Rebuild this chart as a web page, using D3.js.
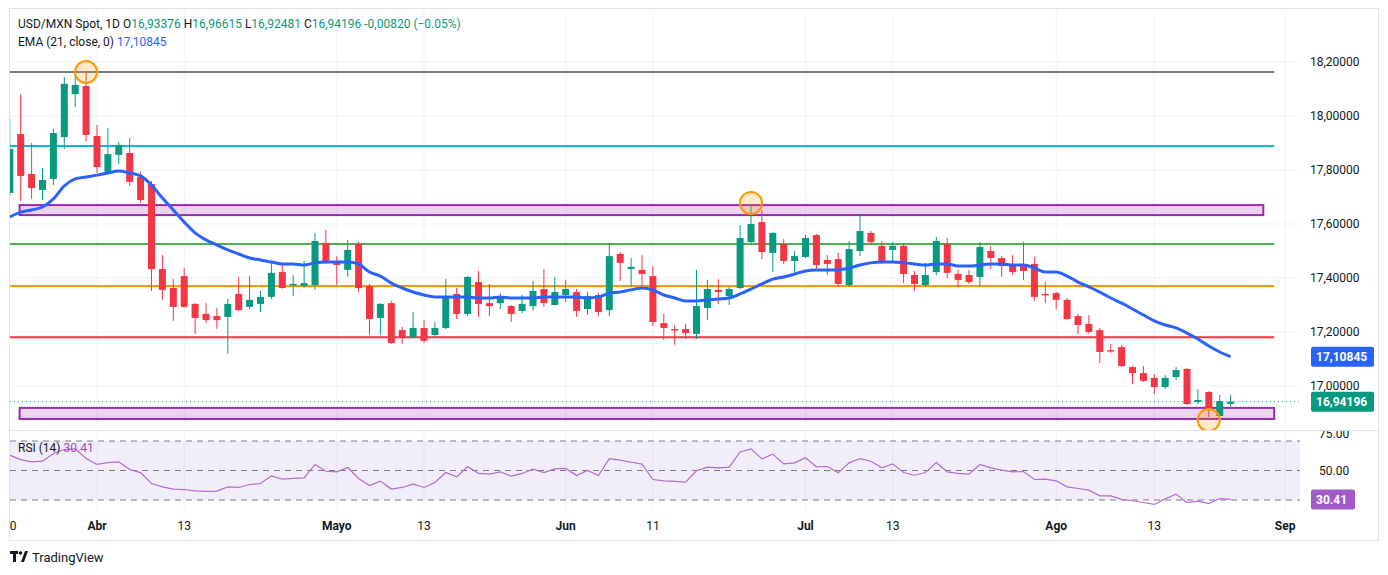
<!DOCTYPE html>
<html>
<head>
<meta charset="utf-8">
<script src="https://cdn.jsdelivr.net/npm/d3@7"></script>
<style>
  body { margin: 0; background: #fff; font-family: Roboto, "Liberation Sans", sans-serif; }
  svg text { font-family: Roboto, "Liberation Sans", sans-serif; }
</style>
</head>
<body>
<svg id="chart" width="1388" height="575"></svg>
<script>
// daily candles, bar index 0 = 1 Apr; [open, high, low, close]
var firstIndex = -8;
var candles = [
  [17.715,17.989,17.704,17.878],[17.933,18.081,17.685,17.778],[17.785,17.900,17.693,17.733],[17.726,17.807,17.689,17.763],
  [17.767,17.952,17.744,17.937],[17.922,18.144,17.878,18.119],[18.081,18.159,18.033,18.115],[18.111,18.163,17.907,17.930],
  [17.926,17.967,17.789,17.811],[17.793,17.956,17.789,17.859],[17.856,17.904,17.822,17.893],[17.863,17.919,17.741,17.756],
  [17.774,17.793,17.678,17.689],[17.748,17.759,17.352,17.433],[17.433,17.485,17.319,17.356],[17.363,17.396,17.241,17.293],
  [17.407,17.437,17.290,17.293],[17.304,17.307,17.193,17.252],[17.267,17.307,17.233,17.244],[17.259,17.289,17.211,17.244],
  [17.256,17.322,17.119,17.304],[17.341,17.404,17.278,17.281],[17.293,17.407,17.285,17.319],[17.304,17.352,17.274,17.330],
  [17.330,17.459,17.322,17.419],[17.422,17.448,17.360,17.363],[17.374,17.411,17.333,17.378],[17.370,17.463,17.363,17.381],
  [17.374,17.567,17.356,17.537],[17.530,17.578,17.452,17.456],[17.459,17.481,17.374,17.448],[17.430,17.541,17.404,17.504],
  [17.526,17.533,17.348,17.363],[17.370,17.378,17.189,17.248],[17.252,17.307,17.189,17.304],[17.307,17.315,17.156,17.159],
  [17.207,17.219,17.156,17.181],[17.181,17.274,17.178,17.215],[17.215,17.244,17.159,17.167],[17.189,17.237,17.181,17.215],
  [17.215,17.396,17.211,17.330],[17.341,17.363,17.248,17.267],[17.267,17.407,17.259,17.404],[17.385,17.426,17.256,17.304],
  [17.307,17.378,17.259,17.296],[17.307,17.344,17.285,17.333],[17.296,17.300,17.237,17.267],[17.278,17.337,17.270,17.304],
  [17.296,17.389,17.278,17.352],[17.359,17.433,17.293,17.307],[17.300,17.404,17.298,17.348],[17.337,17.393,17.311,17.359],
  [17.348,17.359,17.256,17.278],[17.285,17.348,17.263,17.333],[17.337,17.344,17.259,17.274],[17.281,17.530,17.259,17.481],
  [17.489,17.496,17.389,17.456],[17.433,17.474,17.367,17.441],[17.430,17.485,17.367,17.415],[17.407,17.444,17.222,17.237],
  [17.233,17.267,17.170,17.215],[17.211,17.226,17.152,17.207],[17.211,17.230,17.174,17.196],[17.193,17.430,17.174,17.296],
  [17.289,17.393,17.244,17.359],[17.356,17.396,17.304,17.348],[17.333,17.370,17.300,17.359],[17.363,17.596,17.359,17.548],
  [17.533,17.670,17.530,17.600],[17.607,17.652,17.470,17.496],[17.493,17.570,17.422,17.567],[17.526,17.544,17.452,17.463],
  [17.463,17.500,17.422,17.481],[17.478,17.559,17.474,17.548],[17.559,17.563,17.430,17.448],[17.467,17.485,17.411,17.452],
  [17.470,17.493,17.367,17.378],[17.374,17.537,17.367,17.507],[17.500,17.637,17.481,17.574],[17.567,17.574,17.522,17.533],
  [17.519,17.537,17.452,17.463],[17.504,17.533,17.459,17.519],[17.519,17.530,17.381,17.415],[17.411,17.426,17.352,17.378],
  [17.374,17.456,17.367,17.411],[17.422,17.552,17.411,17.537],[17.526,17.548,17.400,17.419],[17.415,17.430,17.367,17.393],
  [17.411,17.430,17.378,17.385],[17.404,17.533,17.370,17.515],[17.500,17.519,17.433,17.474],[17.474,17.481,17.404,17.444],
  [17.448,17.485,17.411,17.422],[17.448,17.533,17.393,17.426],[17.452,17.478,17.315,17.330],[17.341,17.385,17.307,17.337],
  [17.344,17.348,17.285,17.319],[17.319,17.326,17.244,17.248],[17.259,17.267,17.193,17.226],[17.230,17.263,17.193,17.200],
  [17.207,17.215,17.085,17.126],[17.133,17.156,17.122,17.130],[17.144,17.152,17.070,17.074],[17.070,17.074,17.007,17.048],
  [17.048,17.074,17.015,17.019],[17.030,17.044,16.970,16.996],[16.996,17.041,16.989,17.030],[17.033,17.070,17.022,17.059],
  [17.063,17.067,16.930,16.933],[16.941,16.989,16.933,16.948],[16.978,16.980,16.885,16.915],[16.889,16.967,16.885,16.944],
  [16.93376,16.96615,16.92481,16.94196]
];
var ema21 = [
  17.626,17.644,17.652,17.663,17.693,17.741,17.767,17.774,17.781,17.789,17.796,17.789,17.778,17.744,17.696,17.652,
  17.607,17.567,17.541,17.522,17.504,17.489,17.474,17.467,17.459,17.452,17.452,17.448,17.456,17.459,17.459,17.459,
  17.452,17.422,17.407,17.381,17.363,17.348,17.337,17.330,17.330,17.330,17.330,17.326,17.326,17.330,17.326,17.326,
  17.326,17.330,17.330,17.330,17.330,17.326,17.330,17.344,17.348,17.356,17.363,17.356,17.337,17.326,17.315,17.315,
  17.319,17.322,17.326,17.341,17.359,17.378,17.396,17.404,17.415,17.426,17.430,17.430,17.430,17.437,17.448,17.456,
  17.459,17.459,17.456,17.452,17.448,17.452,17.452,17.444,17.444,17.448,17.452,17.452,17.448,17.448,17.437,17.422,
  17.422,17.407,17.385,17.367,17.348,17.326,17.307,17.285,17.263,17.241,17.226,17.215,17.196,17.174,17.148,17.126,
  17.10845
];
var rsi14 = [
  60.4,57.4,55.9,56.3,61.5,64.2,64.7,58.1,54.1,55.3,55.9,50.7,48.6,41.2,38.9,37.4,
  37.1,36.2,35.9,36.0,38.9,38.5,40.5,41.2,46.4,44.1,44.6,45.0,54.1,49.5,49.1,52.0,
  44.6,39.8,42.8,37.4,38.5,40.7,38.5,41.9,48.6,45.7,52.7,48.0,47.5,49.1,46.2,48.0,
  50.9,48.6,51.1,51.4,46.6,50.0,46.6,58.1,57.0,55.6,54.3,43.9,43.0,42.6,42.1,
  49.8,52.3,51.8,52.3,62.6,64.7,57.9,61.1,54.5,55.2,58.6,52.5,52.7,48.4,55.2,58.1,
  56.3,51.8,54.5,48.6,46.8,48.6,55.4,49.1,48.0,47.5,54.1,51.8,50.2,49.1,49.3,43.9,
  44.1,43.0,38.9,37.8,36.7,32.8,32.8,30.4,29.5,28.3,27.0,30.8,34.0,28.3,29.2,27.6,
  31.0,30.41
];
var priceTicks = [17.0, 17.2, 17.4, 17.6, 17.8, 18.0, 18.2];
var rsiTicks = [75, 50, 25];
var rsiLevels = [70, 50, 30];
var timeTicks = [-8, 0, 8, 22, 30, 43, 51, 65, 73, 88, 97, 109];
var timeLabels = ["20", "Abr", "13", "Mayo", "13", "Jun", "11", "Jul", "13", "Ago", "13", "Sep"];
var monthLabels = ["Abr", "Mayo", "Jun", "Jul", "Ago", "Sep"];
// horizontal levels and zones drawn on the chart
var levels = [
  { price: 18.163, color: "#787b86" },
  { price: 17.889, color: "#00bcd4" },
  { price: 17.526, color: "#4caf50" },
  { price: 17.370, color: "#ff9800" },
  { price: 17.181, color: "#f23645" }
];
var zones = [
  { top: 17.670, bottom: 17.633, from: -7.1, to: 107.0 },
  { top: 16.919, bottom: 16.878, from: -7.1, to: 108.0 }
];
var markers = [
  { i: -1, price: 18.163 },
  { i: 60, price: 17.678 },
  { i: 102, price: 16.874 }
];

var svg = d3.select("#chart");
var paneL = 10, paneR = 1300, paneT = 9, paneB = 430, rsiT = 431, rsiB = 510;
var x = d3.scaleLinear().domain([0, 104]).range([97, 97 + 104 * 10.9]);
var y = d3.scaleLinear().domain([17, 18.2]).range([386, 62]);
var yr = d3.scaleLinear().domain([30, 70]).range([500, 441]);
var up = "#089981", down = "#f23645";

var defs = svg.append("defs");
defs.append("clipPath").attr("id", "pc").append("rect")
  .attr("x", paneL).attr("y", paneT).attr("width", paneR - paneL).attr("height", paneB - paneT);
defs.append("clipPath").attr("id", "rc").append("rect")
  .attr("x", paneL).attr("y", rsiT).attr("width", paneR - paneL).attr("height", rsiB - rsiT);
defs.append("clipPath").attr("id", "tc").append("rect")
  .attr("x", paneL).attr("y", 510).attr("width", 1368).attr("height", 30);
defs.append("clipPath").attr("id", "rcAxis").append("rect")
  .attr("x", 1300).attr("y", 431).attr("width", 80).attr("height", 58);

// grid
var grid = svg.append("g").attr("stroke", "#f0f3fa").attr("stroke-width", 1);
grid.selectAll(".v").data(timeTicks.slice(1)).join("line")
  .attr("x1", d => x(d)).attr("x2", d => x(d)).attr("y1", paneT).attr("y2", rsiB);
grid.selectAll(".h").data(priceTicks).join("line")
  .attr("x1", paneL).attr("x2", 1300).attr("y1", d => y(d)).attr("y2", d => y(d));

// price pane
var pp = svg.append("g").attr("clip-path", "url(#pc)");
pp.selectAll(".zone").data(zones).join("rect")
  .attr("x", d => x(d.from)).attr("y", d => y(d.top))
  .attr("width", d => x(d.to) - x(d.from)).attr("height", d => y(d.bottom) - y(d.top))
  .attr("fill", "rgba(156,39,176,0.2)").attr("stroke", "#9c27b0").attr("stroke-width", 2);
pp.selectAll(".lvl").data(levels).join("line")
  .attr("x1", paneL).attr("x2", x(108.0)).attr("y1", d => y(d.price)).attr("y2", d => y(d.price))
  .attr("stroke", d => d.color).attr("stroke-width", 2);
var last = candles[candles.length - 1][3];
pp.append("line").attr("x1", paneL).attr("x2", paneR)
  .attr("y1", y(last)).attr("y2", y(last))
  .attr("stroke", up).attr("stroke-width", 1).attr("stroke-dasharray", "1,3");

var cg = pp.selectAll(".c").data(candles).join("g");
cg.append("line")
  .attr("x1", (d, i) => x(i + firstIndex)).attr("x2", (d, i) => x(i + firstIndex))
  .attr("y1", d => y(d[1])).attr("y2", d => y(d[2]))
  .attr("stroke", d => d[3] >= d[0] ? up : down).attr("stroke-width", 1);
cg.append("rect")
  .attr("x", (d, i) => x(i + firstIndex) - 3.5).attr("width", 7)
  .attr("y", d => y(Math.max(d[0], d[3])))
  .attr("height", d => Math.max(1.5, Math.abs(y(d[0]) - y(d[3]))))
  .attr("fill", d => d[3] >= d[0] ? up : down);

pp.append("path").datum(ema21)
  .attr("d", d3.line().x((d, i) => x(i + firstIndex)).y(d => y(d)).curve(d3.curveMonotoneX))
  .attr("fill", "none").attr("stroke", "#2962ff").attr("stroke-width", 3);

pp.selectAll(".mk").data(markers).join("circle")
  .attr("cx", d => x(d.i)).attr("cy", d => y(d.price)).attr("r", 11)
  .attr("fill", "rgba(255,152,0,0.2)").attr("stroke", "#ff9800").attr("stroke-width", 2);

// separator
svg.append("line").attr("x1", paneL).attr("x2", 1378).attr("y1", 430.5).attr("y2", 430.5)
  .attr("stroke", "#e0e3eb");

// RSI pane
var rp = svg.append("g").attr("clip-path", "url(#rc)");
rp.append("rect").attr("x", paneL).attr("width", paneR - paneL)
  .attr("y", yr(70)).attr("height", yr(30) - yr(70)).attr("fill", "rgba(126,87,194,0.1)");
rp.selectAll(".rl").data(rsiLevels).join("line")
  .attr("x1", paneL).attr("x2", paneR).attr("y1", d => yr(d)).attr("y2", d => yr(d))
  .attr("stroke", "#787b86").attr("stroke-dasharray", "6,5");
rp.append("path").datum(rsi14)
  .attr("d", d3.line().x((d, i) => x(i + firstIndex)).y(d => yr(d)))
  .attr("fill", "none").attr("stroke", "#b26ad3").attr("stroke-width", 1.2);

// price axis labels
var fmt = d => d.toFixed(5).replace(".", ",");
svg.selectAll(".pt").data(priceTicks).join("text")
  .attr("x", 1310).attr("y", d => y(d) + 4).attr("font-size", 12).attr("fill", "#131722").text(fmt);
svg.append("g").attr("clip-path", "url(#rcAxis)").selectAll(".rt").data(rsiTicks).join("text")
  .attr("x", 1319).attr("y", d => yr(d) + 4).attr("font-size", 12).attr("fill", "#131722").text(d => d.toFixed(2));

function badge(txt, color, yy, w) {
  svg.append("rect").attr("x", 1311).attr("y", yy - 10).attr("width", w).attr("height", 20).attr("rx", 2).attr("fill", color);
  svg.append("text").attr("x", 1316).attr("y", yy + 4.5).attr("font-size", 12).attr("font-weight", "bold")
    .attr("fill", "#fff").text(txt);
}
var lastEma = ema21[ema21.length - 1], lastRsi = rsi14[rsi14.length - 1];
badge(fmt(lastEma), "#2962ff", y(lastEma), 63);
badge(fmt(last), up, y(last), 63);
badge(lastRsi.toFixed(2), "#a15bc9", yr(lastRsi), 44);

// time axis
svg.append("g").attr("clip-path", "url(#tc)").selectAll(".tt").data(timeTicks).join("text")
  .attr("x", d => x(d)).attr("y", 530).attr("text-anchor", "middle").attr("font-size", 12)
  .attr("font-weight", (d, i) => monthLabels.includes(timeLabels[i]) ? "bold" : "normal")
  .attr("fill", "#131722").text((d, i) => timeLabels[i]);

// frame
svg.append("rect").attr("x", 9.5).attr("y", 8.5).attr("width", 1369).attr("height", 532)
  .attr("fill", "none").attr("stroke", "#e0e3eb");

// legend
var l1 = svg.append("text").attr("x", 18).attr("y", 28).attr("font-size", 12).attr("fill", "#131722");
l1.append("tspan").text("USD/MXN Spot, 1D  O");
l1.append("tspan").attr("fill", up).text("16,93376");
l1.append("tspan").text("  H");
l1.append("tspan").attr("fill", up).text("16,96615");
l1.append("tspan").text("  L");
l1.append("tspan").attr("fill", up).text("16,92481");
l1.append("tspan").text("  C");
l1.append("tspan").attr("fill", up).text("16,94196  -0,00820 (\u22120.05%)");
var l2 = svg.append("text").attr("x", 18).attr("y", 46).attr("font-size", 12).attr("fill", "#131722");
l2.append("tspan").text("EMA (21, close, 0)  ");
l2.append("tspan").attr("fill", "#2962ff").text("17,10845");
var l3 = svg.append("text").attr("x", 18).attr("y", 452).attr("font-size", 12).attr("fill", "#131722");
l3.append("tspan").text("RSI (14)  ");
l3.append("tspan").attr("fill", "#ab47bc").text("30.41");

// footer logo
var logo = svg.append("g").attr("fill", "#131722");
logo.append("rect").attr("x", 10).attr("y", 551).attr("width", 8).attr("height", 3);
logo.append("rect").attr("x", 13).attr("y", 551).attr("width", 3).attr("height", 11);
logo.append("circle").attr("cx", 20.5).attr("cy", 553).attr("r", 1.8);
logo.append("path").attr("d", "M21 562 L25 551 L28 551 L24 562 Z");
svg.append("text").attr("x", 32).attr("y", 562).attr("font-size", 13).attr("fill", "#131722").text("TradingView");
</script>
</body>
</html>
